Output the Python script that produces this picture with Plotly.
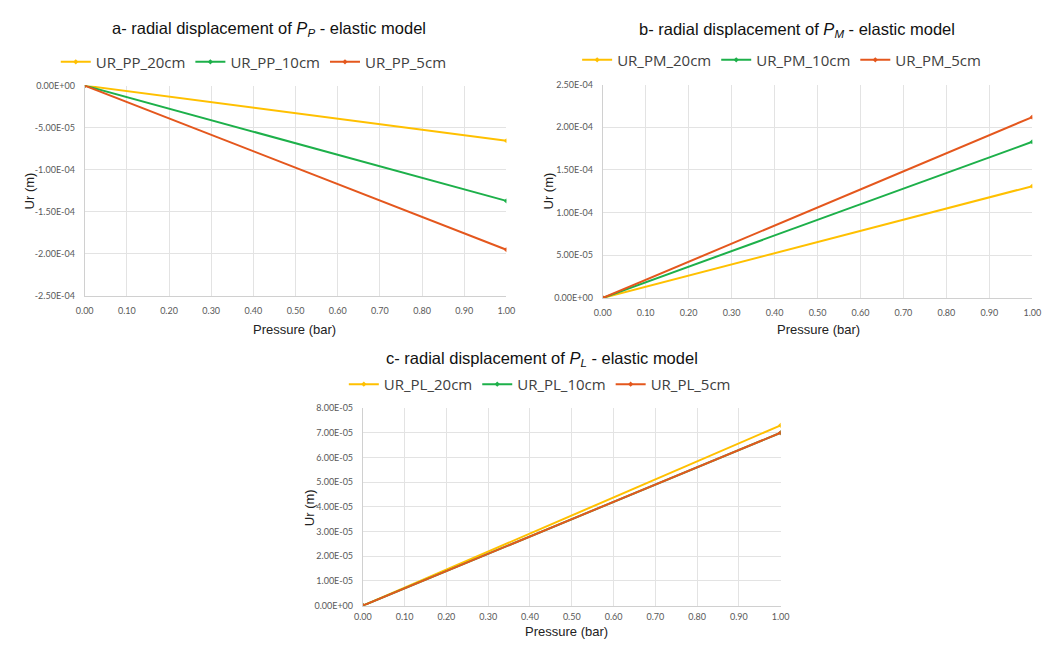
import plotly.graph_objects as go

W, H = 1059, 646

# Pressure steps (bar)
pressure = [0.0, 1.0]

# Radial displacement Ur (m) for panel a (P_P)
ur_pp_20cm = [0.0, -6.55e-05]
ur_pp_10cm = [0.0, -1.37e-04]
ur_pp_5cm = [0.0, -1.95e-04]

# Panel b (P_M)
ur_pm_20cm = [0.0, 1.31e-04]
ur_pm_10cm = [0.0, 1.83e-04]
ur_pm_5cm = [0.0, 2.12e-04]

# Panel c (P_L)
ur_pl_20cm = [0.0, 7.30e-05]
ur_pl_10cm = [0.0, 7.00e-05]
ur_pl_5cm = [0.0, 7.00e-05]

# Tick labels
yticks_a = [0.0, -5e-05, -1e-04, -1.5e-04, -2e-04, -2.5e-04]
yticktext_a = ["0.00E+00", "-5.00E-05", "-1.00E-04", "-1.50E-04", "-2.00E-04", "-2.50E-04"]
yticks_b = [0.0, 5e-05, 1e-04, 1.5e-04, 2e-04, 2.5e-04]
yticktext_b = ["0.00E+00", "5.00E-05", "1.00E-04", "1.50E-04", "2.00E-04", "2.50E-04"]
yticks_c = [i * 1e-05 for i in range(9)]
yticktext_c = ["0.00E+00", "1.00E-05", "2.00E-05", "3.00E-05", "4.00E-05",
               "5.00E-05", "6.00E-05", "7.00E-05", "8.00E-05"]

YELLOW = "#FFC000"
GREEN = "#1DB04A"
RED = "#E4571D"


def px_x(p):
    return p / W


def px_y(p):
    return 1 - p / H


fig = go.Figure()

panels = [
    ("x", "y", "legend", [("UR_PP_20cm", ur_pp_20cm, YELLOW), ("UR_PP_10cm", ur_pp_10cm, GREEN), ("UR_PP_5cm", ur_pp_5cm, RED)]),
    ("x2", "y2", "legend2", [("UR_PM_20cm", ur_pm_20cm, YELLOW), ("UR_PM_10cm", ur_pm_10cm, GREEN), ("UR_PM_5cm", ur_pm_5cm, RED)]),
    ("x3", "y3", "legend3", [("UR_PL_20cm", ur_pl_20cm, YELLOW), ("UR_PL_10cm", ur_pl_10cm, GREEN), ("UR_PL_5cm", ur_pl_5cm, RED)]),
]

for xa, ya, lg, series in panels:
    for name, vals, col in series:
        fig.add_trace(go.Scatter(
            x=pressure, y=vals, name=name, mode="lines+markers",
            line=dict(color=col, width=2),
            marker=dict(color=col, size=4, symbol="diamond"),
            xaxis=xa, yaxis=ya, legend=lg,
        ))

tick_font = dict(family="Lato, Open Sans, sans-serif", size=9, color="#595959")
grid = "#e3e3e3"

xcommon = dict(range=[0, 1], tickvals=[i / 10 for i in range(11)], tickformat=".2f",
               showgrid=True, gridcolor=grid, gridwidth=1, zeroline=False,
               showline=True, linecolor="#d0d0d0", ticks="outside",
               tickcolor="rgba(0,0,0,0)", tickfont=tick_font, fixedrange=True)
ycommon = dict(showgrid=True, gridcolor=grid, gridwidth=1, zeroline=False,
               showline=True, linecolor="#d0d0d0", ticks="outside", ticklen=7,
               tickcolor="rgba(0,0,0,0)", tickfont=tick_font, fixedrange=True)

fig.update_layout(
    width=W, height=H,
    margin=dict(l=0, r=0, t=0, b=0),
    paper_bgcolor="white", plot_bgcolor="white",
    xaxis=dict(domain=[px_x(77), px_x(506)], anchor="y", ticklen=6, **xcommon),
    yaxis=dict(domain=[px_y(295), px_y(81)], anchor="x", range=[-2.5e-04, 0],
               tickvals=yticks_a, ticktext=yticktext_a, **ycommon),
    xaxis2=dict(domain=[px_x(604), px_x(1041)], anchor="y2", ticklen=6, **xcommon),
    yaxis2=dict(domain=[px_y(297), px_y(80)], anchor="x2", range=[0, 2.5e-04],
                tickvals=yticks_b, ticktext=yticktext_b, **ycommon),
    xaxis3=dict(domain=[px_x(360), px_x(785)], anchor="y3", ticklen=3, **xcommon),
    yaxis3=dict(domain=[px_y(610), px_y(409)], anchor="x3", range=[0, 8e-05],
                tickvals=yticks_c, ticktext=yticktext_c, **ycommon),
    showlegend=True,
)

legend_font = dict(family="Open Sans, sans-serif", size=15, color="#404040")
for key, cx, cy in [("legend", 249, 57), ("legend2", 786, 55), ("legend3", 540, 385)]:
    fig.update_layout({key: dict(
        orientation="h", x=px_x(cx), y=px_y(cy), xanchor="center", yanchor="middle",
        font=legend_font, bgcolor="rgba(0,0,0,0)", itemwidth=30,
        tracegroupgap=0, itemclick=False, itemdoubleclick=False,
    )})

title_font = dict(family="Liberation Sans, Arial, sans-serif", size=16.5, color="#111111")
titles = [
    ("a- radial displacement of <i>P</i><sub><i>P</i></sub> - elastic model", 264, 23),
    ("b- radial displacement of <i>P</i><sub><i>M</i></sub> - elastic model", 802, 24),
    ("c- radial displacement of <i>P</i><sub><i>L</i></sub> - elastic model", 542, 359),
]
for txt, cx, cy in titles:
    fig.add_annotation(text=txt, x=px_x(cx), y=px_y(cy), xref="paper", yref="paper",
                       xanchor="center", yanchor="middle", showarrow=False, font=title_font)

axis_font = dict(family="Liberation Sans, Arial, sans-serif", size=13, color="#222222")
for cx, cy in [(290, 329), (823, 329), (567, 636)]:
    fig.add_annotation(text="Pressure (bar)", x=px_x(cx), y=px_y(cy), xref="paper", yref="paper",
                       xanchor="center", yanchor="middle", showarrow=False, font=axis_font)
for cx, cy in [(21, 188), (549, 188), (305, 510)]:
    fig.add_annotation(text="Ur (m)", x=px_x(cx), y=px_y(cy), xref="paper", yref="paper",
                       xanchor="center", yanchor="middle", showarrow=False, font=axis_font,
                       textangle=-90)

fig.write_html("out.html")
